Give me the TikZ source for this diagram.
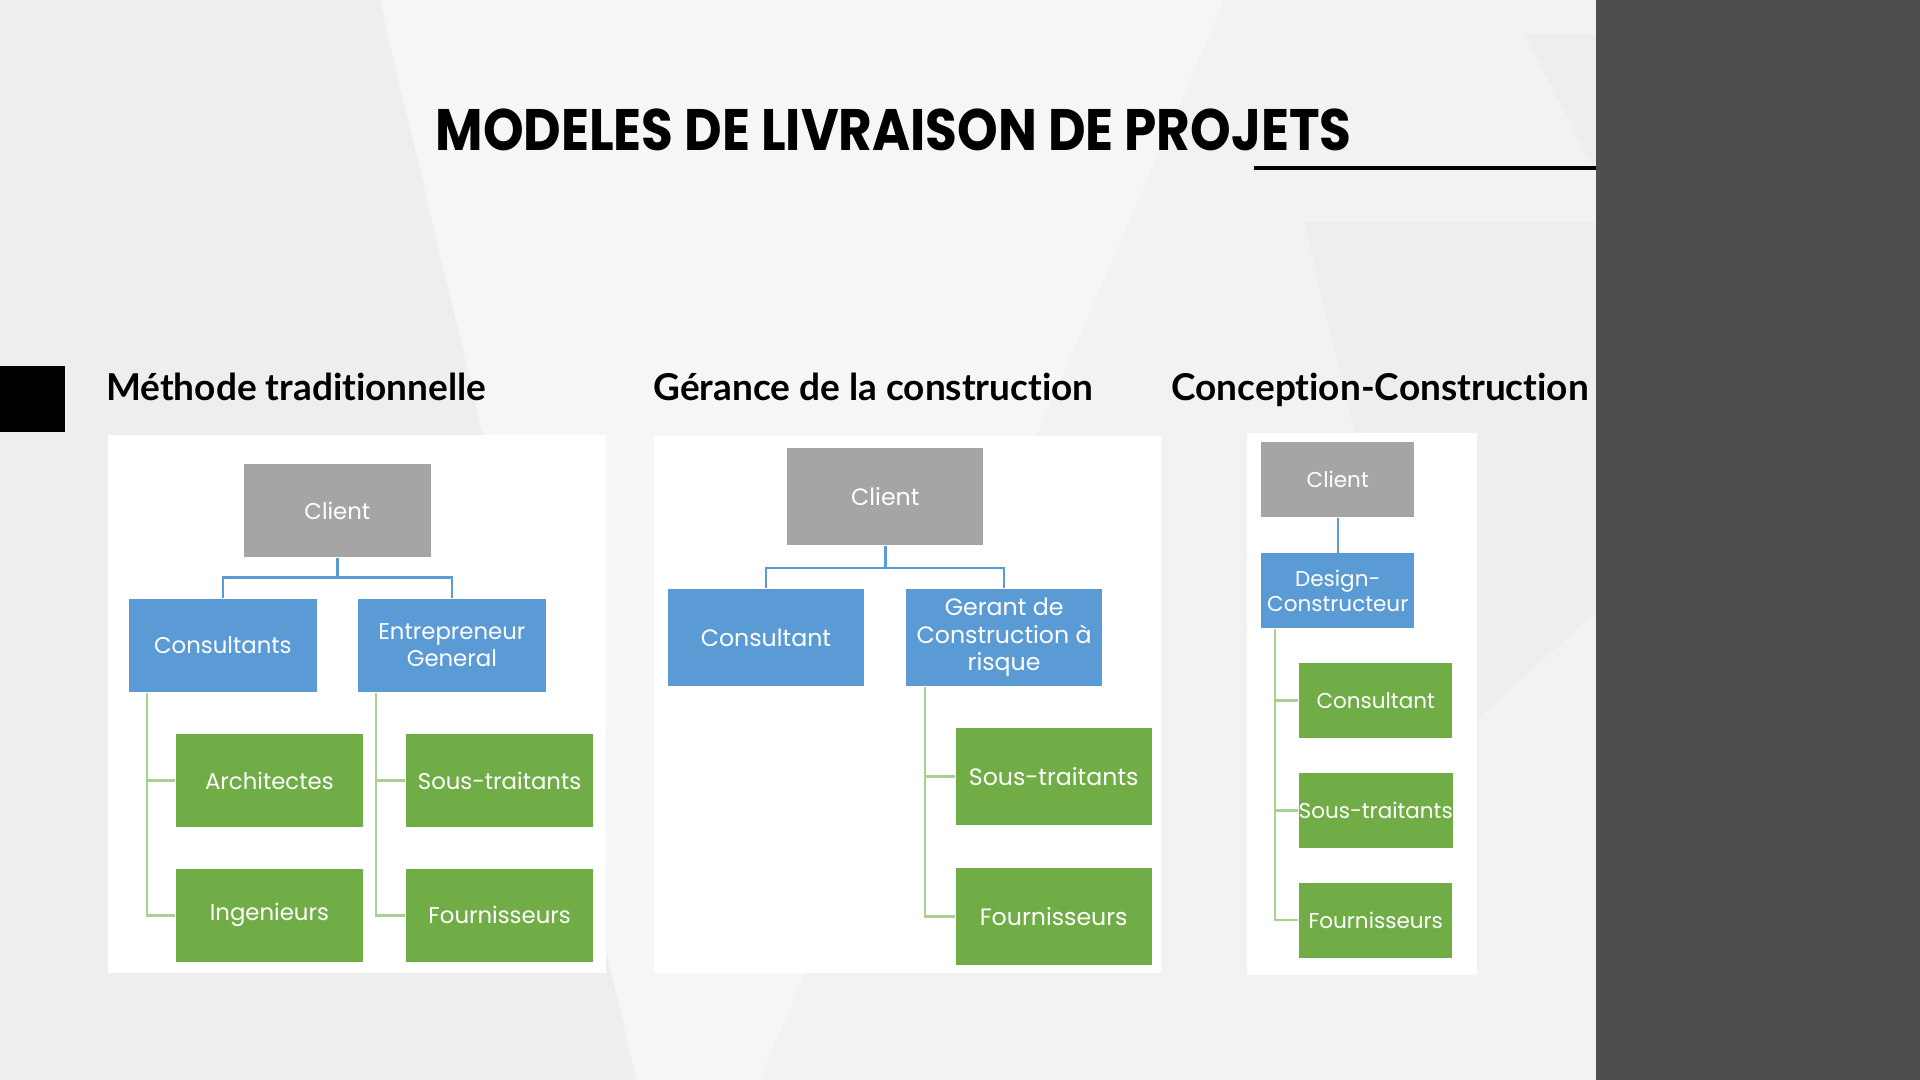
\documentclass[tikz,border=0pt]{standalone}
\usepackage{fontspec}
\usepackage{graphicx}
\setmainfont{Lato}[Ligatures=NoCommon]
\newfontfamily\titrefont{Poppins}
\newfontfamily\boitefont{Poppins}
\definecolor{fond}{RGB}{242,242,242}
\definecolor{fondclair}{RGB}{246,246,246}
\definecolor{fondsombre}{RGB}{238,238,238}
\definecolor{panneau}{RGB}{78,78,78}
\definecolor{gris}{RGB}{165,165,165}
\definecolor{bleu}{RGB}{91,155,213}
\definecolor{vert}{RGB}{112,173,71}
\definecolor{traitvert}{RGB}{169,209,142}

\begin{document}
\begin{tikzpicture}[scale=0.1]
\tikzstyle{every node}+=[inner sep=0pt]
\tikzstyle{boite}=[rectangle, text=white, align=center]
\tikzstyle{grisbox}=[boite, fill=gris]
\tikzstyle{bleubox}=[boite, fill=bleu]
\tikzstyle{vertbox}=[boite, fill=vert]
\tikzstyle{taille1}=[minimum width=1.53cm, minimum height=0.76cm, font=\boitefont\fontsize{5.3}{6.3}\selectfont]
\tikzstyle{taille2}=[minimum width=1.6cm, minimum height=0.79cm, font=\boitefont\fontsize{5.5}{6.3}\selectfont]
\tikzstyle{taille3}=[minimum width=1.25cm, minimum height=0.61cm, font=\boitefont\fontsize{5}{5.7}\selectfont]
\tikzstyle{lienbleu}=[draw=bleu, line width=0.55pt]
\tikzstyle{lienvert}=[draw=traitvert, line width=0.55pt]
\tikzstyle{soustitre}=[anchor=base west, font=\bfseries\fontsize{8.6}{10}\selectfont]
\useasboundingbox (0,0) rectangle (156.8,-88.2);
\fill [fond] (0,0) rectangle (156.8,-88.2);
\fill [fondsombre] (0,0) -- (31,0) -- (52,-88.2) -- (0,-88.2) -- cycle;
\fill [fondclair] (31,0) -- (100,0) -- (62,-88.2) -- (52,-88.2) -- cycle;
\fill [fondsombre] (106.5,-18.1) -- (130.3,-18.1) -- (130.3,-50) -- (117,-62) -- cycle;
\fill [fondsombre] (124.5,-2.8) -- (130.3,-2.8) -- (130.3,-14) -- cycle;
\fill [panneau] (130.3,0) rectangle (156.8,-88.2);
\fill [black] (0,-29.9) rectangle (5.3,-35.3);
\node[anchor=south west] (titre) at (35.5,-12.4) {\resizebox{7.48cm}{0.34cm}{\titrefont\bfseries MODELES DE LIVRAISON DE PROJETS}};
\coordinate (traitA) at (102.4,-13.7);
\coordinate (traitB) at (130.3,-13.7);
\draw [line width=0.85pt] (traitA) -- (traitB);
\node[soustitre] (st1) at (8.6,-32.7) {Méthode traditionnelle};
\node[soustitre] (st2) at (53.3,-32.7) {Gérance de la construction};
\node[soustitre] (st3) at (95.6,-32.7) {Conception-Construction};
\fill [white] (8.8,-35.5) rectangle (49.5,-79.5);
\fill [white] (53.4,-35.6) rectangle (94.8,-79.5);
\fill [white] (101.8,-35.4) rectangle (120.6,-79.6);
\node[grisbox, taille1] (cli1) at (27.55,-41.7) {Client};
\node[bleubox, taille1] (con1) at (18.2,-52.7) {Consultants};
\node[bleubox, taille1] (ent1) at (36.9,-52.7) {Entrepreneur\\General};
\node[vertbox, taille1] (arc1) at (22,-63.75) {Architectes};
\node[vertbox, taille1] (ing1) at (22,-74.75) {Ingenieurs};
\node[vertbox, taille1] (sou1) at (40.8,-63.75) {Sous-traitants};
\node[vertbox, taille1] (fou1) at (40.8,-74.75) {Fournisseurs};
\draw [lienbleu] (cli1.south) -- ++(0,-1.6) -| (con1.north);
\draw [lienbleu] (cli1.south) -- ++(0,-1.6) -| (ent1.north);
\draw [lienvert] ([xshift=1.5cm]con1.south west) |- (arc1.west);
\draw [lienvert] ([xshift=1.5cm]con1.south west) |- (ing1.west);
\draw [lienvert] ([xshift=1.5cm]ent1.south west) |- (sou1.west);
\draw [lienvert] ([xshift=1.5cm]ent1.south west) |- (fou1.west);
\node[grisbox, taille2] (cli2) at (72.3,-40.55) {Client};
\node[bleubox, taille2] (con2) at (62.55,-52.05) {Consultant};
\node[bleubox, taille2] (ger2) at (82,-52.05) {Gerant de\\Construction à\\risque};
\node[vertbox, taille2] (sou2) at (86.05,-63.4) {Sous-traitants};
\node[vertbox, taille2] (fou2) at (86.05,-74.85) {Fournisseurs};
\draw [lienbleu] (cli2.south) -- ++(0,-1.8) -| (con2.north);
\draw [lienbleu] (cli2.south) -- ++(0,-1.8) -| (ger2.north);
\draw [lienvert] ([xshift=1.6cm]ger2.south west) |- (sou2.west);
\draw [lienvert] ([xshift=1.6cm]ger2.south west) |- (fou2.west);
\node[grisbox, taille3] (cli3) at (109.25,-39.15) {Client};
\node[bleubox, taille3] (des3) at (109.25,-48.25) {Design-\\Constructeur};
\node[vertbox, taille3] (con3) at (112.35,-57.2) {Consultant};
\node[vertbox, taille3] (sou3) at (112.35,-66.2) {Sous-traitants};
\node[vertbox, taille3] (fou3) at (112.35,-75.15) {Fournisseurs};
\draw [lienbleu] (cli3.south) -- (des3.north);
\draw [lienvert] ([xshift=1.2cm]des3.south west) |- (con3.west);
\draw [lienvert] ([xshift=1.2cm]des3.south west) |- (sou3.west);
\draw [lienvert] ([xshift=1.2cm]des3.south west) |- (fou3.west);
\end{tikzpicture}
\end{document}
